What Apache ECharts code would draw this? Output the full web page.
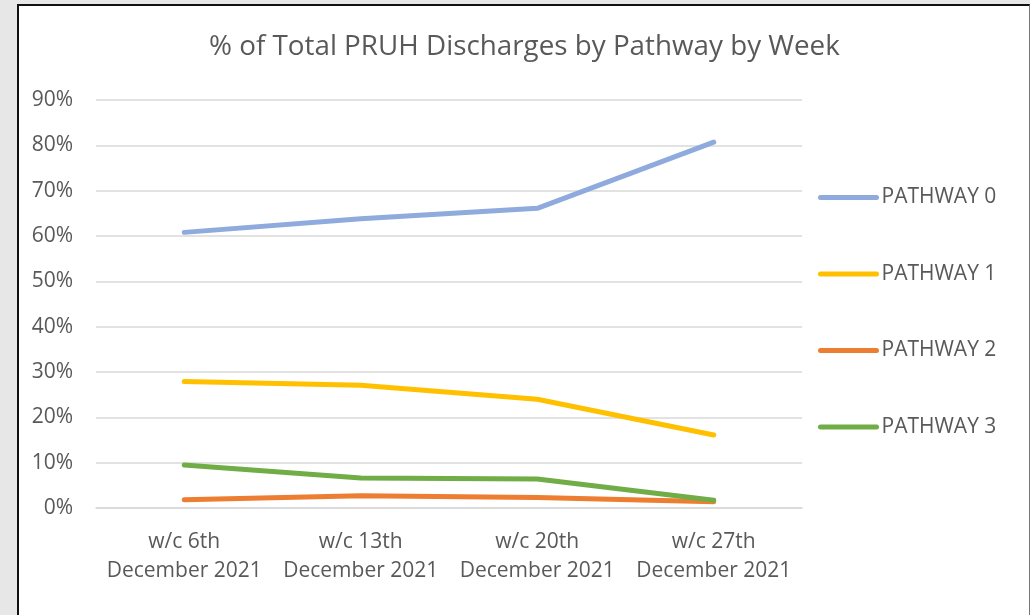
<!DOCTYPE html>
<html>
<head>
<meta charset="utf-8">
<script src="https://cdn.jsdelivr.net/npm/echarts@6/dist/echarts.min.js"></script>
<style>
  html, body { margin: 0; padding: 0; background: #e7e7e7; }
  #panel {
    position: absolute; left: 17px; top: 4px; width: 1010px; height: 640px;
    background: #fff; border-left: 2px solid #111; border-top: 2px solid #111;
    border-right: 1px solid #777;
  }
  #chart { position: absolute; left: 0; top: 0; width: 1030px; height: 615px; }
</style>
</head>
<body>
<div id="panel"></div>
<div id="chart"></div>
<script>
// week categories
const weeks = ['w/c 6th\nDecember 2021', 'w/c 13th\nDecember 2021', 'w/c 20th\nDecember 2021', 'w/c 27th\nDecember 2021'];
// % of discharges per pathway
const pathway0 = [60.8, 63.8, 66.1, 80.7];
const pathway1 = [27.9, 27.1, 24.0, 16.1];
const pathway2 = [1.8, 2.7, 2.3, 1.4];
const pathway3 = [9.5, 6.6, 6.4, 1.7];
const names = ['PATHWAY 0', 'PATHWAY 1', 'PATHWAY 2', 'PATHWAY 3'];
const colors = ['#8faadc', '#ffc000', '#ed7d31', '#70ad47'];

const font = 'Open Sans';
const myChart = echarts.init(document.getElementById('chart'));

const mkSeries = (name, data, color) => ({
    name: name,
    type: 'line',
    data: data,
    symbol: 'none',
    color: color,
    lineStyle: { width: 5, color: color, cap: 'round', join: 'round' },
    animation: false
});

const option = {
    textStyle: { fontFamily: font },
    title: {
        text: '% of Total PRUH Discharges by Pathway by Week',
        left: 209,
        top: 33,
        padding: 0,
        textStyle: { fontFamily: font, fontSize: 27.8, fontWeight: 'normal', color: '#595959' }
    },
    legend: {
        orient: 'vertical',
        left: 813,
        top: 182,
        itemWidth: 56,
        itemHeight: 20,
        itemGap: 55.5,
        itemTextGap: 4,
        itemStyle: { opacity: 0 },
        lineStyle: { width: 5, cap: 'round' },
        textStyle: { fontFamily: font, fontSize: 21, color: '#595959' },
        data: names
    },
    grid: { left: 96, right: 228, top: 100, bottom: 107 },
    xAxis: {
        type: 'category',
        data: weeks,
        axisLine: { lineStyle: { color: '#d9d9d9', width: 1.5 } },
        axisTick: { show: false },
        axisLabel: { interval: 0, fontFamily: font, fontSize: 21, color: '#595959', lineHeight: 29, margin: 20 }
    },
    yAxis: {
        type: 'value',
        min: 0,
        max: 90,
        interval: 10,
        axisLabel: { fontFamily: font, fontSize: 21, color: '#595959', margin: 23, formatter: '{value}%' },
        splitLine: { lineStyle: { color: '#d9d9d9', width: 1.5 } }
    },
    series: [
        mkSeries(names[0], pathway0, colors[0]),
        mkSeries(names[1], pathway1, colors[1]),
        mkSeries(names[2], pathway2, colors[2]),
        mkSeries(names[3], pathway3, colors[3])
    ]
};
myChart.setOption(option);
</script>
</body>
</html>
